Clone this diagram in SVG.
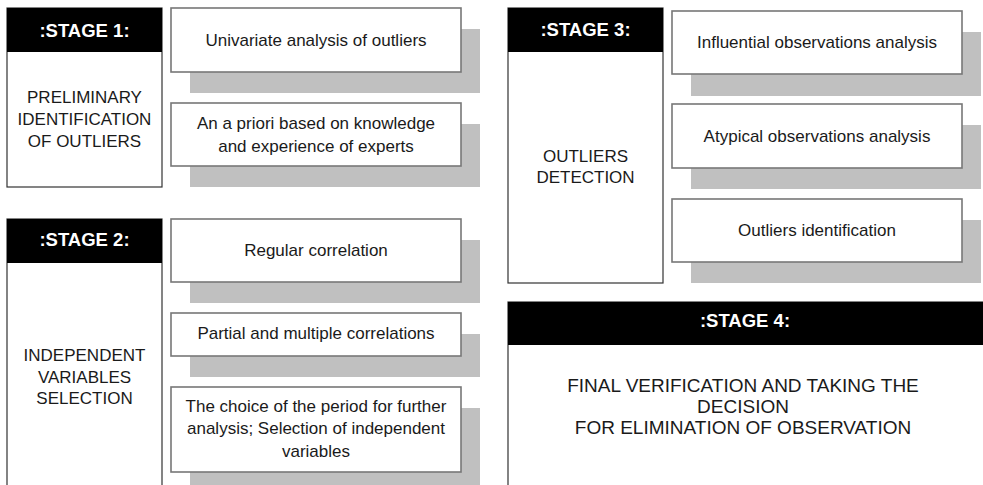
<svg xmlns="http://www.w3.org/2000/svg" width="983" height="485" viewBox="0 0 983 485">
  <defs>
    <style>
      .stage { fill: #ffffff; stroke: #333333; stroke-width: 1.2; }
      .head { fill: #000000; }
      .shadow { fill: #c0c0c0; }
      .item { fill: #ffffff; stroke: #777777; stroke-width: 1.6; }
      .ht { font-family: "Liberation Sans", Arial, sans-serif; font-size: 18.5px; font-weight: bold; fill: #ffffff; text-anchor: middle; }
      .t { font-family: "Liberation Sans", Arial, sans-serif; font-size: 17px; fill: #1a1a1a; text-anchor: middle; }
      .t4 { font-family: "Liberation Sans", Arial, sans-serif; font-size: 19px; fill: #1a1a1a; text-anchor: middle; }
    </style>
  </defs>
  <rect width="983" height="485" fill="#ffffff"/>

  <!-- Stage 1 -->
  <g id="stage1">
    <rect class="stage" x="7" y="8" width="155" height="179"/>
    <rect class="head" x="7" y="8" width="155" height="44"/>
    <text class="ht" x="84.5" y="37">:STAGE 1:</text>
    <text class="t" x="84.5" y="103">PRELIMINARY</text>
    <text class="t" x="84.5" y="125">IDENTIFICATION</text>
    <text class="t" x="84.5" y="147">OF OUTLIERS</text>
  </g>
  <g id="univariate">
    <rect class="shadow" x="190" y="29" width="290" height="64"/>
    <rect class="item" x="171" y="8" width="290" height="64"/>
    <text class="t" x="316" y="46">Univariate analysis of outliers</text>
  </g>
  <g id="apriori">
    <rect class="shadow" x="190" y="124" width="290" height="63"/>
    <rect class="item" x="171" y="103" width="290" height="63"/>
    <text class="t" x="316" y="129">An a priori based on knowledge</text>
    <text class="t" x="316" y="152">and experience of experts</text>
  </g>

  <!-- Stage 2 -->
  <g id="stage2">
    <rect class="stage" x="7" y="219" width="155" height="280"/>
    <rect class="head" x="7" y="219" width="155" height="44"/>
    <text class="ht" x="84.5" y="246">:STAGE 2:</text>
    <text class="t" x="84.5" y="361">INDEPENDENT</text>
    <text class="t" x="84.5" y="383">VARIABLES</text>
    <text class="t" x="84.5" y="404">SELECTION</text>
  </g>
  <g id="regular">
    <rect class="shadow" x="190" y="240" width="290" height="63"/>
    <rect class="item" x="171" y="219" width="290" height="63"/>
    <text class="t" x="316" y="256">Regular correlation</text>
  </g>
  <g id="partial">
    <rect class="shadow" x="190" y="334" width="290" height="43"/>
    <rect class="item" x="171" y="313" width="290" height="43"/>
    <text class="t" x="316" y="339">Partial and multiple correlations</text>
  </g>
  <g id="period">
    <rect class="shadow" x="190" y="408" width="290" height="85"/>
    <rect class="item" x="171" y="387" width="290" height="85"/>
    <text class="t" x="316" y="412">The choice of the period for further</text>
    <text class="t" x="316" y="434">analysis; Selection of independent</text>
    <text class="t" x="316" y="457">variables</text>
  </g>

  <!-- Stage 3 -->
  <g id="stage3">
    <rect class="stage" x="508" y="8" width="155" height="275"/>
    <rect class="head" x="508" y="8" width="155" height="44"/>
    <text class="ht" x="585.5" y="36">:STAGE 3:</text>
    <text class="t" x="585.5" y="162">OUTLIERS</text>
    <text class="t" x="585.5" y="183">DETECTION</text>
  </g>
  <g id="influential">
    <rect class="shadow" x="691" y="32" width="290" height="64"/>
    <rect class="item" x="672" y="11" width="290" height="63"/>
    <text class="t" x="817" y="48">Influential observations analysis</text>
  </g>
  <g id="atypical">
    <rect class="shadow" x="691" y="125" width="290" height="64"/>
    <rect class="item" x="672" y="104" width="290" height="64"/>
    <text class="t" x="817" y="142">Atypical observations analysis</text>
  </g>
  <g id="identification">
    <rect class="shadow" x="691" y="220" width="290" height="63"/>
    <rect class="item" x="672" y="199" width="290" height="63"/>
    <text class="t" x="817" y="236">Outliers identification</text>
  </g>

  <!-- Stage 4 -->
  <g id="stage4">
    <rect class="stage" x="508" y="302" width="490" height="200"/>
    <rect class="head" x="508" y="302" width="490" height="43"/>
    <text class="ht" x="745" y="327">:STAGE 4:</text>
    <text class="t4" x="743" y="392">FINAL VERIFICATION AND TAKING THE</text>
    <text class="t4" x="743" y="413">DECISION</text>
    <text class="t4" x="743" y="434">FOR ELIMINATION OF OBSERVATION</text>
  </g>

  <!-- no connectors are drawn between the stages -->
  <g id="connectors"/>
</svg>
